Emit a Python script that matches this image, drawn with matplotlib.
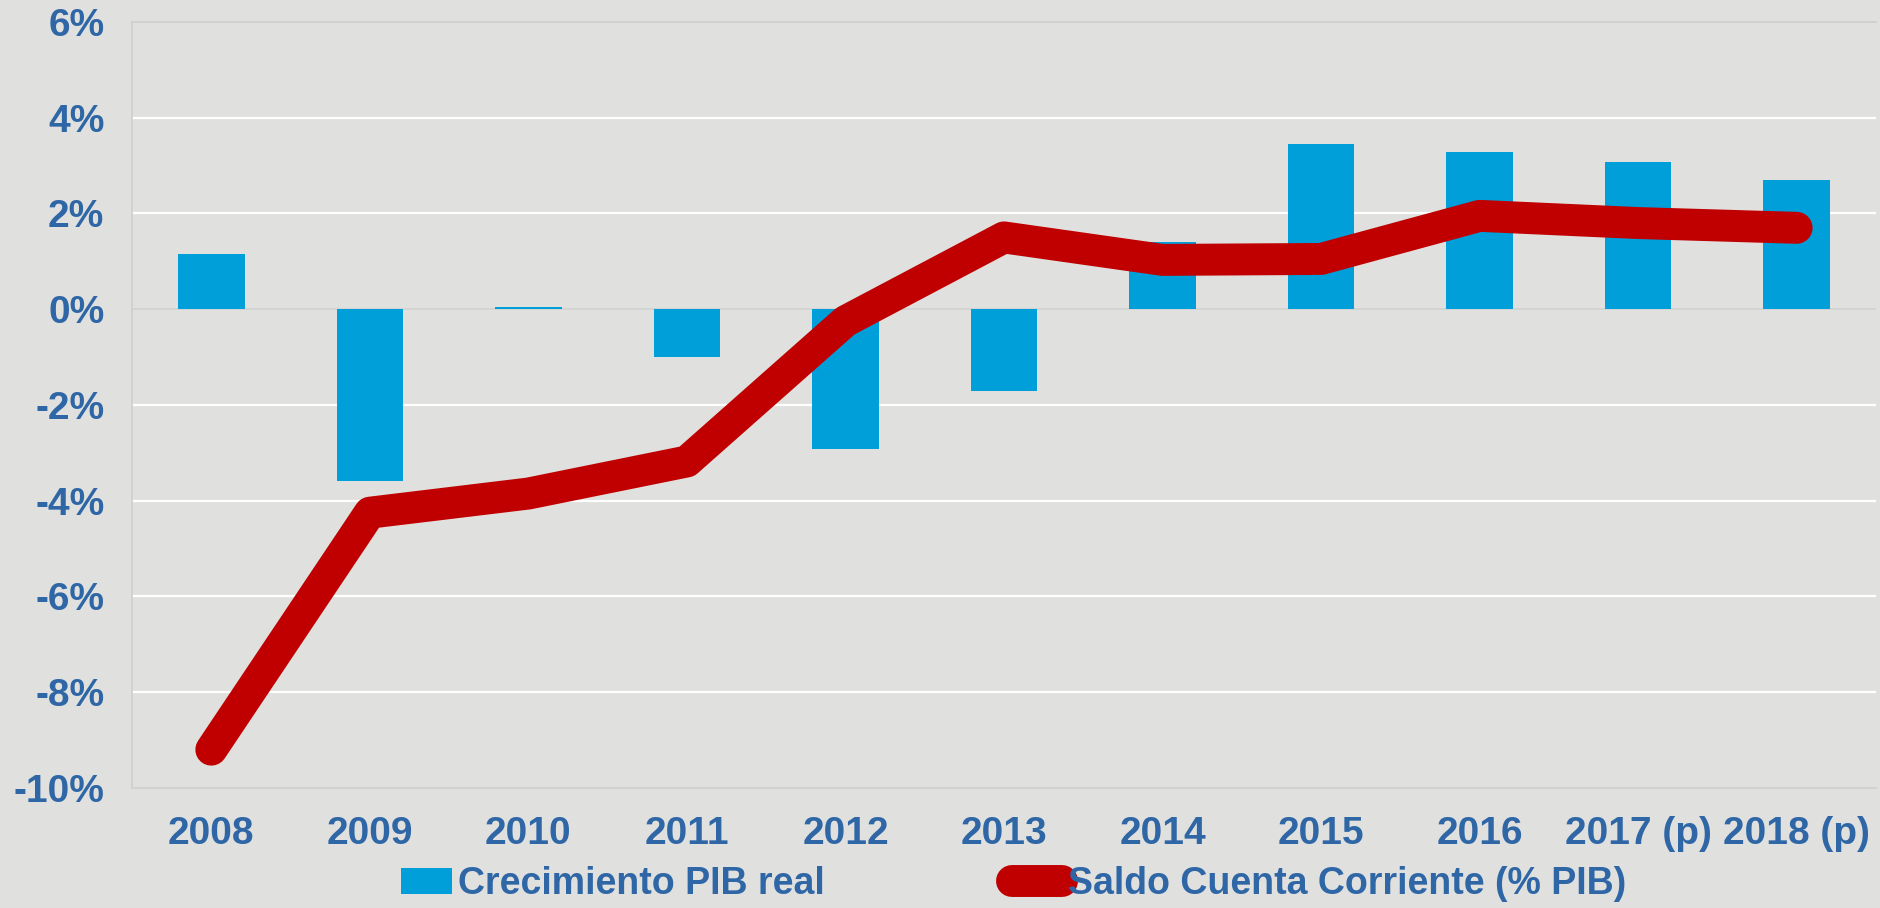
import matplotlib
matplotlib.use("Agg")
import matplotlib.pyplot as plt
from matplotlib.ticker import FuncFormatter

categories = ["2008", "2009", "2010", "2011", "2012", "2013", "2014", "2015", "2016", "2017 (p)", "2018 (p)"]
pib_real = [1.15, -3.58, 0.05, -1.0, -2.93, -1.7, 1.4, 3.45, 3.28, 3.08, 2.7]
saldo_cc = [-9.2, -4.25, -3.85, -3.18, -0.25, 1.5, 1.03, 1.05, 1.95, 1.8, 1.7]
y_ticks = [-10, -8, -6, -4, -2, 0, 2, 4, 6]

BG = "#E0E0DF"
TXT = "#2E66A6"
BLUE = "#009FDA"
RED = "#C00000"

plt.rcParams['font.family'] = ['Liberation Sans', 'DejaVu Sans']
plt.rcParams['font.weight'] = 'bold'

fig = plt.figure(figsize=(18.81, 9.08), dpi=100, facecolor=BG)
ax = fig.add_axes([0.0702, 0.1322, 0.9271, 0.8436], facecolor=BG)

x = list(range(len(categories)))
bars = ax.bar(x, pib_real, width=0.42, color=BLUE, zorder=2, label="Crecimiento PIB real")
line, = ax.plot(x, saldo_cc, color=RED, linewidth=23, solid_capstyle='round',
                solid_joinstyle='round', zorder=3, label="Saldo Cuenta Corriente (% PIB)")

ax.set_xlim(-0.5, len(categories) - 0.5)
ax.set_ylim(-10, 6)
ax.set_yticks(y_ticks)
ax.yaxis.set_major_formatter(FuncFormatter(lambda v, p: f"{int(v)}%"))
ax.set_xticks(x)
ax.set_xticklabels(categories)

for y in y_ticks:
    if y in (-10, 6):
        continue
    if y == 0:
        ax.axhline(y, color="#D2D2D2", linewidth=1.2, zorder=1)
    else:
        ax.axhline(y, color="white", linewidth=1.6, zorder=1)

for s in ax.spines.values():
    s.set_color("#CFCFCF")
    s.set_linewidth(1.2)
ax.spines['right'].set_visible(False)

ax.tick_params(axis='both', length=0, colors=TXT, labelsize=28)
ax.tick_params(axis='y', pad=20)
ax.tick_params(axis='x', pad=20)
for lab in ax.get_xticklabels() + ax.get_yticklabels():
    lab.set_fontweight('bold')
    lab.set_color(TXT)

leg = fig.legend(handles=[bars, line], loc='center', bbox_to_anchor=(0.539, 0.026),
                 ncol=2, frameon=False, fontsize=27, handlelength=1.35,
                 handletextpad=0.15, columnspacing=5.0, borderaxespad=0,
                 borderpad=0.1)
for t in leg.get_texts():
    t.set_color(TXT)
    t.set_fontweight('bold')

fig.savefig("out.png", dpi=100, facecolor=BG)
